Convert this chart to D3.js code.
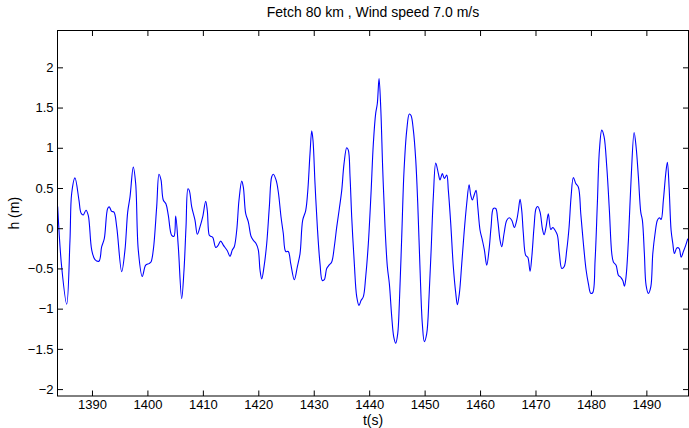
<!DOCTYPE html>
<html>
<head>
<meta charset="utf-8">
<script src="https://cdn.jsdelivr.net/npm/d3@7/dist/d3.min.js"></script>
<style>
  html, body { margin: 0; padding: 0; background: #fff; }
  svg { display: block; font-family: "Liberation Sans", Arial, Helvetica, sans-serif; }
</style>
</head>
<body>
<svg id="chart" width="689" height="428"></svg>
<script>
// Surface elevation record: time (s) and elevation h (m)
const timeS = [
  1383.81, 1384.53, 1385.44, 1386.03, 1386.34, 1386.93, 1387.65, 1388.02, 1388.43, 1388.92,
  1389.33, 1389.95, 1390.54, 1391.26, 1391.75, 1392.22, 1392.83, 1393.12, 1393.55, 1393.97,
  1394.46, 1395.36, 1395.95, 1396.44, 1396.86, 1397.45, 1397.88, 1398.35, 1399.07, 1399.69,
  1400.28, 1400.64, 1401.06, 1401.67, 1402.09, 1402.45, 1402.86, 1403.35, 1403.77, 1404.38,
  1404.79, 1405.10, 1405.57, 1406.18, 1406.60, 1406.96, 1407.32, 1407.55, 1407.99, 1408.58,
  1409.00, 1409.48, 1409.97, 1410.51, 1410.80, 1411.16, 1411.41, 1411.78, 1412.32, 1412.68,
  1413.22, 1413.69, 1414.41, 1414.90, 1415.31, 1415.67, 1416.11, 1416.52, 1417.01, 1417.30,
  1417.73, 1418.20, 1418.69, 1419.10, 1419.59, 1420.00, 1420.31, 1420.62, 1421.03, 1421.52,
  1421.99, 1422.42, 1422.71, 1423.20, 1423.61, 1424.10, 1424.51, 1424.95, 1425.41, 1425.85,
  1426.50, 1427.04, 1427.53, 1428.01, 1428.55, 1428.91, 1429.33, 1429.64, 1429.87, 1430.23,
  1430.65, 1431.13, 1431.55, 1431.91, 1432.34, 1432.76, 1433.24, 1433.71, 1434.15, 1434.62,
  1435.05, 1435.46, 1435.95, 1436.24, 1436.55, 1436.85, 1437.32, 1437.75, 1438.17, 1438.53,
  1438.95, 1439.38, 1439.85, 1440.33, 1440.75, 1441.18, 1441.47, 1441.78, 1442.08, 1442.45,
  1442.86, 1443.28, 1443.64, 1444.07, 1444.43, 1444.79, 1445.15, 1445.44, 1445.87, 1446.29,
  1446.78, 1447.24, 1447.55, 1447.97, 1448.40, 1448.76, 1449.18, 1449.59, 1449.95, 1450.38,
  1450.80, 1451.16, 1451.58, 1452.01, 1452.48, 1452.78, 1453.20, 1453.56, 1453.99, 1454.28,
  1454.71, 1455.18, 1455.62, 1455.91, 1456.27, 1456.70, 1457.11, 1457.60, 1458.02, 1458.32,
  1458.61, 1458.97, 1459.28, 1459.59, 1460.00, 1460.42, 1460.78, 1461.21, 1461.62, 1461.99,
  1462.40, 1462.83, 1463.19, 1463.61, 1463.92, 1464.33, 1464.82, 1465.29, 1465.72, 1466.19,
  1466.62, 1466.91, 1467.22, 1467.52, 1467.81, 1468.25, 1468.61, 1469.02, 1469.33, 1469.74,
  1470.10, 1470.41, 1470.83, 1471.24, 1471.55, 1471.91, 1472.32, 1472.76, 1473.12, 1473.53,
  1473.95, 1474.31, 1474.74, 1475.16, 1475.64, 1476.06, 1476.42, 1476.83, 1477.27, 1477.74,
  1478.17, 1478.64, 1479.13, 1479.54, 1479.97, 1480.33, 1480.75, 1481.16, 1481.53, 1481.96,
  1482.37, 1482.86, 1483.33, 1483.76, 1484.05, 1484.54, 1484.95, 1485.39, 1485.75, 1486.04,
  1486.34, 1486.76, 1487.24, 1487.79, 1488.15, 1488.56, 1488.99, 1489.28, 1489.64, 1489.95,
  1490.37, 1490.80, 1491.16, 1491.57, 1491.99, 1492.35, 1492.66, 1493.07, 1493.50, 1493.79,
  1494.10, 1494.46, 1494.77, 1495.06, 1495.49, 1495.90, 1496.27, 1496.68, 1497.11, 1497.47
];
const heightM = [
  0.27, -0.48, -0.945, -0.15, 0.435, 0.626, 0.35, 0.19, 0.165, 0.224,
  0.16, -0.27, -0.39, -0.41, -0.23, -0.13, 0.245, 0.265, 0.21, 0.2,
  0.016, -0.54, -0.27, 0.2, 0.39, 0.76, 0.556, -0.27, -0.6, -0.46,
  -0.44, -0.42, -0.27, 0.265, 0.67, 0.6, 0.35, 0.3, 0.16, -0.09,
  -0.1, 0.15, -0.23, -0.875, -0.52, 0.016, 0.49, 0.47, 0.265, 0.1,
  -0.075, 0.016, 0.14, 0.336, 0.22, -0.087, -0.1, -0.115, -0.24, -0.22,
  -0.16, -0.21, -0.28, -0.35, -0.27, -0.23, -0.025, 0.35, 0.585, 0.51,
  0.18, 0.08, -0.1, -0.15, -0.19, -0.27, -0.52, -0.63, -0.48, -0.19,
  0.265, 0.64, 0.67, 0.6, 0.45, 0.14, -0.066, -0.29, -0.29, -0.44,
  -0.64, -0.48, -0.315, 0.1, 0.22, 0.45, 0.93, 1.21, 1.09, 0.556,
  0.016, -0.44, -0.65, -0.64, -0.5, -0.46, -0.42, -0.23, 0.016, 0.245,
  0.47, 0.8, 1.0, 0.97, 0.64, 0.14, -0.44, -0.85, -0.96, -0.9,
  -0.85, -0.6, -0.19, 0.43, 1.05, 1.43, 1.55, 1.86, 1.51, 0.72,
  0.016, -0.48, -0.69, -1.1, -1.35, -1.43, -1.31, -0.94, -0.11, 0.72,
  1.22, 1.42, 1.4, 1.22, 0.85, 0.31, -0.52, -1.19, -1.41, -1.31,
  -0.85, -0.3, 0.4, 0.81, 0.68, 0.6, 0.68, 0.62, 0.66, 0.47,
  0.06, -0.48, -0.81, -0.95, -0.81, -0.44, -0.066, 0.31, 0.54, 0.41,
  0.35, 0.42, 0.47, 0.265, -0.025, -0.15, -0.27, -0.46, -0.27, 0.016,
  0.245, 0.245, 0.1, -0.15, -0.23, -0.066, 0.1, 0.13, 0.1, 0.008,
  0.1, 0.22, 0.36, 0.22, -0.066, -0.34, -0.36, -0.535, -0.36, 0.016,
  0.245, 0.27, 0.2, -0.004, -0.08, 0.016, 0.18, -0.016, 0.008, -0.025,
  -0.087, -0.315, -0.5, -0.48, -0.27, 0.016, 0.39, 0.63, 0.556, 0.51,
  0.18, -0.19, -0.52, -0.69, -0.81, -0.8, -0.4, 0.31, 0.97, 1.22,
  1.14, 0.76, 0.22, -0.315, -0.42, -0.46, -0.585, -0.61, -0.65, -0.72,
  -0.6, -0.15, 0.6, 1.19, 1.01, 0.64, 0.2, 0.1, -0.315, -0.71,
  -0.81, -0.73, -0.315, -0.066, 0.1, 0.13, 0.11, 0.35, 0.68, 0.82,
  0.51, -0.025, -0.19, -0.315, -0.245, -0.25, -0.36, -0.29, -0.21, -0.13
];
const xTicks = [1390, 1400, 1410, 1420, 1430, 1440, 1450, 1460, 1470, 1480, 1490];
const yTicks = [-2, -1.5, -1, -0.5, 0, 0.5, 1, 1.5, 2];
const xLimits = [1383.78, 1497.6];
const yLimits = [-2.086, 2.458];

const titleText = "Fetch 80 km , Wind speed 7.0 m/s";
const xLabelText = "t(s)";
const yLabelText = "h (m)";

const W = 689, H = 428;
const margin = { left: 57.5, right: 0.5, top: 30.5, bottom: 32 };
const plotW = W - margin.left - margin.right;
const plotH = H - margin.top - margin.bottom;

const svg = d3.select("#chart");
const g = svg.append("g").attr("transform", `translate(${margin.left},${margin.top})`);

const x = d3.scaleLinear().domain(xLimits).range([0, plotW]);
const y = d3.scaleLinear().domain(yLimits).range([plotH, 0]);

const fmtY = v => (v < 0 ? "\u2212" + Math.abs(v) : String(v));

// clip the trace to the axes box
svg.append("defs").append("clipPath").attr("id", "plotClip")
  .append("rect").attr("width", plotW).attr("height", plotH);

const points = timeS.map((t, i) => [t, heightM[i]]);
const line = d3.line()
  .x(d => x(d[0]))
  .y(d => y(d[1]))
  .curve(d3.curveCatmullRom.alpha(0.5));

g.append("path")
  .datum(points)
  .attr("clip-path", "url(#plotClip)")
  .attr("fill", "none")
  .attr("stroke", "#0000ff")
  .attr("stroke-width", 1.1)
  .attr("stroke-linejoin", "round")
  .attr("d", line);

const tick = 5.5;
const styleAxis = sel => {
  sel.select(".domain").remove();
  sel.selectAll(".tick line").attr("stroke", "#000").attr("stroke-width", 1);
  sel.selectAll(".tick text").attr("fill", "#000").attr("font-size", 13)
    .attr("font-family", "'Liberation Sans', Arial, sans-serif");
};

// bottom / top
g.append("g").attr("transform", `translate(0,${plotH})`)
  .call(d3.axisBottom(x).tickValues(xTicks).tickFormat(d3.format("d")).tickSize(-tick).tickPadding(4))
  .call(styleAxis);
g.append("g")
  .call(d3.axisTop(x).tickValues(xTicks).tickFormat("").tickSize(-tick))
  .call(styleAxis);
// left / right
g.append("g")
  .call(d3.axisLeft(y).tickValues(yTicks).tickFormat(fmtY).tickSize(-tick).tickPadding(4))
  .call(styleAxis);
g.append("g").attr("transform", `translate(${plotW},0)`)
  .call(d3.axisRight(y).tickValues(yTicks).tickFormat("").tickSize(-tick))
  .call(styleAxis);

// axes box
g.append("rect")
  .attr("width", plotW).attr("height", plotH)
  .attr("fill", "none").attr("stroke", "#000").attr("stroke-width", 1);

// title and axis labels
svg.append("text")
  .attr("x", margin.left + plotW / 2).attr("y", 17)
  .attr("text-anchor", "middle").attr("font-size", 14).attr("fill", "#000")
  .text(titleText);
svg.append("text")
  .attr("x", margin.left + plotW / 2).attr("y", 425)
  .attr("text-anchor", "middle").attr("font-size", 14).attr("fill", "#000")
  .text(xLabelText);
svg.append("text")
  .attr("transform", `translate(19,${margin.top + plotH / 2}) rotate(-90)`)
  .attr("text-anchor", "middle").attr("font-size", 14).attr("fill", "#000")
  .text(yLabelText);
</script>
</body>
</html>
